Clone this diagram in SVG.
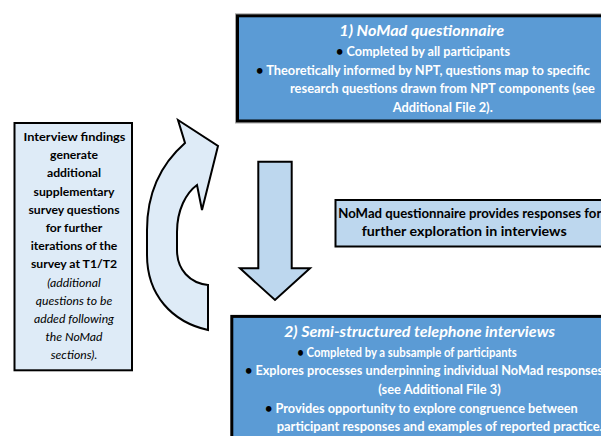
<svg xmlns="http://www.w3.org/2000/svg" width="601" height="436" viewBox="0 0 601 436">
<style>
.t{font-family:Lato,"Open Sans","Liberation Sans",sans-serif;font-size:12.5px;font-weight:bold}
.s{font-size:12.2px}
.w{fill:#ffffff}
.k{fill:#000000}
.c{text-anchor:middle}
.i{font-style:italic;font-weight:normal}
.h{font-size:15px;font-style:italic}
.b{fill:#000000}
</style>
<rect width="601" height="436" fill="#ffffff"/>
<g id="connectors">
<path id="curved-arrow" d="M208,330 C172,322 147,295 147,255 L147,230 C147,195 160,165 185,143 L178,120 L218,146 L202,210 L197,185 C186,193 177,210 177,232 L177,250 C177,270 190,283 208,285 Z" fill="#DEEBF7" stroke="#000" stroke-width="2" stroke-linejoin="miter"/>
<path id="down-arrow" d="M258.3,161.7 L291.7,161.7 L291.7,268.3 L310,268.3 L275,300 L240,268.3 L258.3,268.3 Z" fill="#BDD7EE" stroke="#000" stroke-width="2"/>
</g>
<g id="nomad">
<rect x="235.5" y="13.8" width="404" height="109.2" fill="none" stroke="#a6a6a6" stroke-width="1"/>
<rect x="237.5" y="15.8" width="400" height="105.2" fill="#5B9BD5" stroke="#000" stroke-width="3"/>
<text class="t w h c" x="421.7" y="36" textLength="164.7" lengthAdjust="spacingAndGlyphs">1) NoMad questionnaire</text>
<text class="t w" x="336" y="56" textLength="174" lengthAdjust="spacingAndGlyphs"><tspan class="b">•</tspan> Completed by all participants</text>
<text class="t w" x="256" y="75" textLength="334" lengthAdjust="spacingAndGlyphs"><tspan class="b">•</tspan> Theoretically informed by NPT, questions map to specific</text>
<text class="t w" x="290" y="93.3" textLength="305" lengthAdjust="spacingAndGlyphs">research questions drawn from NPT components (see</text>
<text class="t w" x="392.7" y="111.7" textLength="100" lengthAdjust="spacingAndGlyphs">Additional File 2).</text>
</g>
<g id="feedback">
<rect x="14.5" y="123" width="117.5" height="247.3" fill="#DEEBF7" stroke="#000" stroke-width="2"/>
<text class="t s k c" x="74.5" y="141" textLength="102" lengthAdjust="spacingAndGlyphs">Interview findings</text>
<text class="t s k c" x="74" y="159.2">generate</text>
<text class="t s k c" x="74" y="177.4">additional</text>
<text class="t s k c" x="74" y="195.6">supplementary</text>
<text class="t s k c" x="74" y="213.8">survey questions</text>
<text class="t s k c" x="74" y="232">for further</text>
<text class="t s k c" x="74" y="250.2">iterations of the</text>
<text class="t s k c" x="74" y="268.4">survey at T1/T2</text>
<text class="t s k c i" x="74" y="286.6">(additional</text>
<text class="t s k c i" x="74" y="304.8">questions to be</text>
<text class="t s k c i" x="74" y="323">added following</text>
<text class="t s k c i" x="74" y="341.2">the NoMad</text>
<text class="t s k c i" x="74" y="359.4">sections).</text>
</g>
<g id="responses">
<rect x="335.5" y="200" width="300" height="46.5" fill="#BDD7EE" stroke="#000" stroke-width="2"/>
<text class="t k" x="338.3" y="217.7" textLength="263" lengthAdjust="spacingAndGlyphs">NoMad questionnaire provides responses for</text>
<text class="t k" x="361.7" y="236" textLength="205" lengthAdjust="spacingAndGlyphs">further exploration in interviews</text>
</g>
<g id="interviews">
<rect x="231.8" y="316.4" width="400" height="140" fill="#5B9BD5" stroke="#000" stroke-width="3"/>
<text class="t w h c" x="419.5" y="336.7" textLength="271" lengthAdjust="spacingAndGlyphs">2) Semi-structured telephone interviews</text>
<text class="t w" x="297.3" y="356.7" textLength="219.4" lengthAdjust="spacingAndGlyphs"><tspan class="b">•</tspan> Completed by a subsample of participants</text>
<text class="t w" x="245" y="375" textLength="358" lengthAdjust="spacingAndGlyphs"><tspan class="b">•</tspan> Explores processes underpinning individual NoMad responses</text>
<text class="t w" x="378.3" y="394" textLength="122.4" lengthAdjust="spacingAndGlyphs">(see Additional File 3)</text>
<text class="t w" x="265" y="412.7" textLength="312.7" lengthAdjust="spacingAndGlyphs"><tspan class="b">•</tspan> Provides opportunity to explore congruence between</text>
<text class="t w" x="276.7" y="430.7" textLength="326" lengthAdjust="spacingAndGlyphs">participant responses and examples of reported practice.</text>
</g>
</svg>
